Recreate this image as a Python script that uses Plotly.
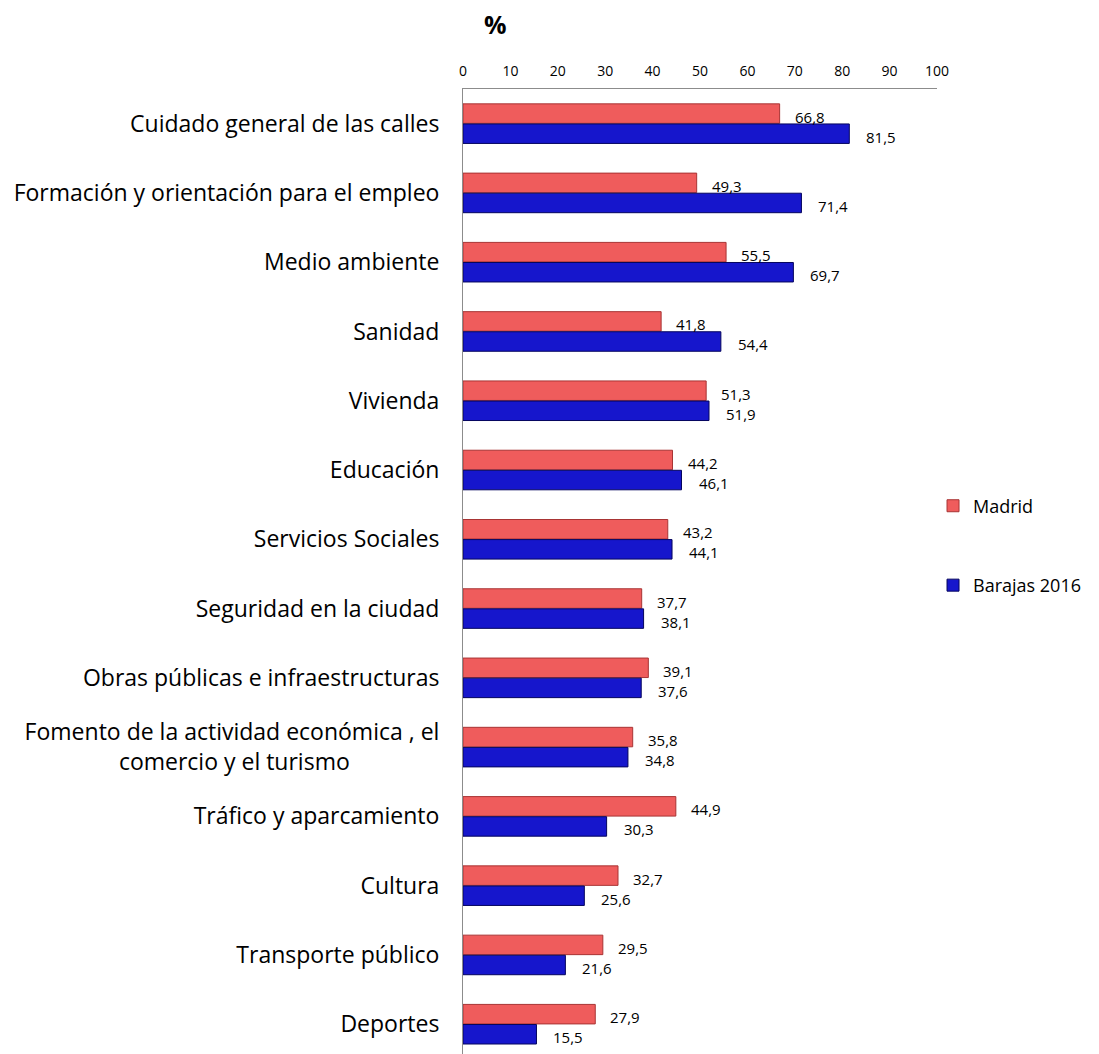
import plotly.graph_objects as go

categories = [
    "Cuidado general de las calles",
    "Formación y orientación para el empleo",
    "Medio ambiente",
    "Sanidad",
    "Vivienda",
    "Educación",
    "Servicios Sociales",
    "Seguridad en la ciudad",
    "Obras públicas e infraestructuras",
    "Fomento de la actividad económica , el<br>comercio y el turismo" + "\u00a0" * 15,
    "Tráfico y aparcamiento",
    "Cultura",
    "Transporte público",
    "Deportes",
]
madrid = [66.8, 49.3, 55.5, 41.8, 51.3, 44.2, 43.2, 37.7, 39.1, 35.8, 44.9, 32.7, 29.5, 27.9]
barajas = [81.5, 71.4, 69.7, 54.4, 51.9, 46.1, 44.1, 38.1, 37.6, 34.8, 30.3, 25.6, 21.6, 15.5]
x_ticks = list(range(0, 101, 10))

FONT = "Open Sans"

fig = go.Figure()
fig.add_trace(go.Bar(
    y=categories, x=madrid, orientation="h", name="Madrid",
    marker=dict(color="#EF5C5C", line=dict(color="#A83434", width=1)),
    legendgroup="a",
))
fig.add_trace(go.Bar(
    y=categories, x=barajas, orientation="h", name="Barajas 2016",
    marker=dict(color="#1616CC", line=dict(color="#05055E", width=1)),
    legendgroup="b",
))

def fmt(v):
    return f"{v:.1f}".replace(".", ",")

annotations = []
for c, m, b in zip(categories, madrid, barajas):
    annotations.append(dict(x=m, y=c, xref="x", yref="y", text=fmt(m), showarrow=False,
                            xanchor="left", yanchor="middle", xshift=13, yshift=7,
                            font=dict(family=FONT, size=15, color="#000")))
    annotations.append(dict(x=b, y=c, xref="x", yref="y", text=fmt(b), showarrow=False,
                            xanchor="left", yanchor="middle", xshift=15, yshift=-13,
                            font=dict(family=FONT, size=15, color="#000")))
annotations.append(dict(x=(495 - 463) / 474, y=1, xref="paper", yref="paper", yshift=65,
                        text="<b>%</b>", showarrow=False, xanchor="center", yanchor="middle",
                        font=dict(family=FONT, size=25, color="#000")))

fig.update_layout(
    width=1091, height=1046,
    margin=dict(l=455, r=162, t=81, b=0, autoexpand=False),
    paper_bgcolor="white", plot_bgcolor="white",
    barmode="group", bargap=0.42, bargroupgap=0.03,
    font=dict(family=FONT, color="#000"),
    annotations=annotations,
    legend=dict(x=0.9916, y=0.587, xanchor="left", yanchor="top",
                font=dict(family=FONT, size=18), tracegroupgap=53,
                itemwidth=30, bgcolor="rgba(0,0,0,0)"),
    showlegend=True,
)
fig.update_xaxes(side="top", range=[0, 100], tickvals=x_ticks, ticktext=[str(t) for t in x_ticks],
                 showgrid=False, zeroline=False, showline=True, linecolor="#8C8C8C", linewidth=1,
                 ticks="", tickfont=dict(family=FONT, size=14), ticklabelstandoff=6,
                 automargin=False)
fig.update_yaxes(autorange=False, range=[13.43, -0.5], showgrid=False, zeroline=False,
                 showline=True, linecolor="#8C8C8C", linewidth=1, ticks="",
                 tickfont=dict(family=FONT, size=23), ticklabelstandoff=18,
                 automargin=False)

fig.write_html("out.html")
